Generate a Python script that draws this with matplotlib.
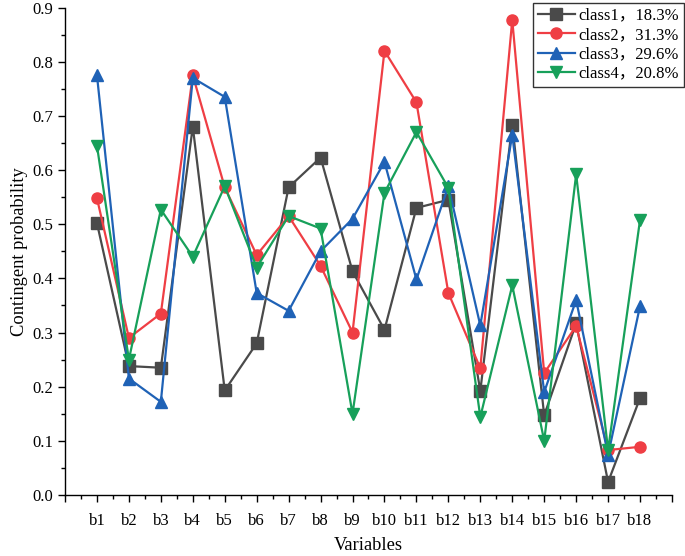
import matplotlib
matplotlib.use("Agg")
import matplotlib.pyplot as plt
from matplotlib.ticker import MultipleLocator, FixedLocator

plt.rcParams['font.family'] = ['Liberation Serif', 'Noto Sans CJK SC']

variables = [f"b{i}" for i in range(1, 19)]
class_names = ["class1，18.3%", "class2，31.3%", "class3，29.6%", "class4，20.8%"]

class1 = [0.502, 0.238, 0.235, 0.680, 0.193, 0.280, 0.568, 0.623, 0.413, 0.305,
          0.530, 0.545, 0.192, 0.684, 0.147, 0.317, 0.024, 0.179]
class2 = [0.548, 0.290, 0.335, 0.775, 0.568, 0.443, 0.515, 0.423, 0.300, 0.820,
          0.725, 0.373, 0.234, 0.877, 0.225, 0.312, 0.083, 0.089]
class3 = [0.775, 0.215, 0.172, 0.770, 0.735, 0.373, 0.340, 0.450, 0.510, 0.615,
          0.398, 0.570, 0.313, 0.665, 0.190, 0.360, 0.074, 0.349]
class4 = [0.645, 0.250, 0.527, 0.440, 0.570, 0.420, 0.515, 0.492, 0.150, 0.558,
          0.670, 0.567, 0.144, 0.387, 0.100, 0.592, 0.083, 0.508]

series = [class1, class2, class3, class4]
colors = ["#4a4a4a", "#ef3e44", "#1f62b6", "#17a05a"]
markers = ["s", "o", "^", "v"]

fig = plt.figure(figsize=(6.85, 5.56), dpi=100)
ax = fig.add_axes([0.0949, 0.1097, 0.981 - 0.0949, 0.9865 - 0.1097])

x = list(range(1, len(variables) + 1))
for vals, c, m, name in zip(series, colors, markers, class_names):
    ax.plot(x, vals, color=c, marker=m, markersize=8, linewidth=1.6, label=name)

ax.set_xlim(0, 19)
ax.set_ylim(0, 0.9)
ax.xaxis.set_major_locator(FixedLocator(list(range(0, 20))))
ax.set_xticklabels([""] + variables + [""])
ax.xaxis.set_minor_locator(MultipleLocator(0.5))
yt = [i * 0.1 for i in range(10)]
ax.yaxis.set_major_locator(FixedLocator(yt))
ax.set_yticklabels([f"{v:.1f}" for v in yt])
ax.yaxis.set_minor_locator(MultipleLocator(0.05))

for s in ["top", "right"]:
    ax.spines[s].set_visible(False)
for s in ["left", "bottom"]:
    ax.spines[s].set_linewidth(1.0)
ax.tick_params(which="major", direction="out", length=5, width=1, labelsize=12, colors="black")
ax.tick_params(which="minor", direction="out", length=3, width=1)
ax.tick_params(axis="x", pad=8)

ax.set_xlabel("Variables", fontsize=13.3, labelpad=6)
ax.set_ylabel("Contingent probability", fontsize=13.3, labelpad=3)

leg = ax.legend(loc="upper right", bbox_to_anchor=(0.998, 0.995), bbox_transform=fig.transFigure,
                fontsize=12, frameon=True, fancybox=False, edgecolor="black",
                handlelength=2.2, borderpad=0.3, labelspacing=0.2, handletextpad=0.2,
                borderaxespad=0.0)
leg.get_frame().set_linewidth(1.0)

fig.savefig("out.png", dpi=100)
